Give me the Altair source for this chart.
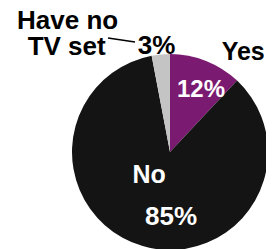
import altair as alt
import pandas as pd

categories = ["Yes", "No", "Have no TV set"]
values = [12, 85, 3]
pct_labels = ["12%", "85%", "3%"]
colors = ["#7a1a70", "#141414", "#c4c4c4"]

df = pd.DataFrame({"cat": categories, "value": values, "pct": pct_labels})
df["order"] = range(len(df))
df["mid"] = df["value"].cumsum() - df["value"] / 2

CX, CY, R = 162, 144, 98
FONT = "Liberation Sans"

base = alt.Chart(df).encode(x=alt.value(CX), y=alt.value(CY))

pie = base.mark_arc(outerRadius=R).encode(
    theta=alt.Theta("value:Q", stack=True, scale=alt.Scale(domain=[0, 100])),
    color=alt.Color("cat:N", scale=alt.Scale(domain=categories, range=colors), legend=None),
    order=alt.Order("order:Q"),
)

theta_mid = alt.Theta("mid:Q", stack=None, scale=alt.Scale(domain=[0, 100]))


def label(cat, field, radius, color, dx=0, dy=0, size=25):
    return base.transform_filter(alt.datum.cat == cat).transform_calculate(
        line1="substring(datum.cat, 0, 7)", line2="substring(datum.cat, 8)"
    ).mark_text(
        font=FONT, fontWeight="bold", fontSize=size, align="center",
        baseline="middle", dx=dx, dy=dy, color=color
    ).encode(theta=theta_mid, radius=alt.value(radius), text=alt.Text(f"{field}:N"))


yes_pct = label("Yes", "pct", 68, "white", dx=6, dy=1, size=24)
yes_name = label("Yes", "cat", 120, "black", dx=29, dy=12)
no_name = label("No", "cat", 48, "white", dx=-7.5, dy=-23)
no_pct = label("No", "pct", 48, "white", dx=14.5, dy=19, size=26)
gray_pct = label("Have no TV set", "pct", 110, "black", dx=-3, dy=4, size=26)
gray_line1 = label("Have no TV set", "line1", 110, "black", dx=-92, dy=-21, size=26)
gray_line2 = label("Have no TV set", "line2", 110, "black", dx=-93, dy=5, size=26)

leader = alt.Chart(df).transform_filter(alt.datum.cat == "Have no TV set").mark_rule(
    color="black", strokeWidth=1.5
).encode(x=alt.value(100), x2=alt.value(127), y=alt.value(30), y2=alt.value(34))

chart = alt.layer(pie, yes_pct, yes_name, no_name, no_pct, gray_pct, gray_line1, gray_line2, leader).properties(
    width=258, height=241, padding=0, autosize=alt.AutoSizeParams(type="none")
).configure_view(stroke=None)

chart.save("out.html", embed_options={"renderer": "svg", "actions": False})
